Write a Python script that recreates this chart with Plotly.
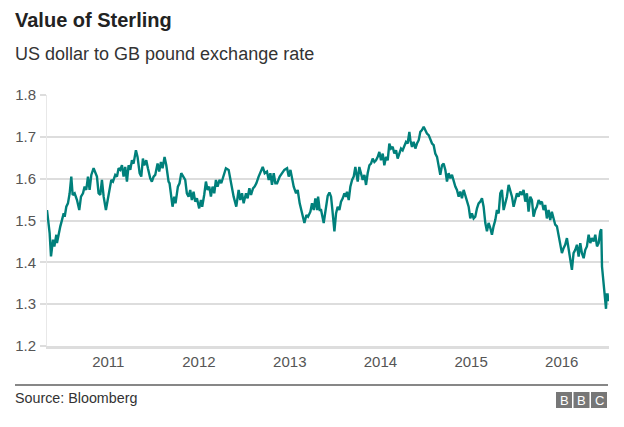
import plotly.graph_objects as go
from datetime import datetime

# Decimal-year positions, with GBP/USD rate
years = [
2010.324,2010.353,2010.368,2010.390,2010.405,2010.427,2010.434,2010.452,2010.471,2010.489,
2010.508,2010.519,2010.537,2010.555,2010.574,2010.592,2010.607,2010.629,2010.655,2010.680,
2010.699,2010.721,2010.739,2010.757,2010.776,2010.794,2010.813,2010.838,2010.857,2010.875,
2010.893,2010.912,2010.930,2010.949,2010.974,2010.996,2011.015,2011.033,2011.052,2011.077,
2011.096,2011.114,2011.132,2011.151,2011.169,2011.187,2011.206,2011.224,2011.243,2011.261,
2011.279,2011.305,2011.323,2011.346,2011.364,2011.382,2011.397,2011.419,2011.437,2011.463,
2011.481,2011.500,2011.518,2011.544,2011.562,2011.581,2011.599,2011.621,2011.640,2011.665,
2011.676,2011.695,2011.709,2011.728,2011.742,2011.768,2011.786,2011.805,2011.831,2011.849,
2011.867,2011.886,2011.904,2011.922,2011.941,2011.959,2011.978,2012.003,2012.022,2012.036,
2012.058,2012.077,2012.095,2012.114,2012.132,2012.150,2012.169,2012.187,2012.205,2012.227,
2012.246,2012.272,2012.297,2012.327,2012.345,2012.363,2012.382,2012.411,2012.437,2012.455,
2012.474,2012.492,2012.518,2012.536,2012.555,2012.573,2012.595,2012.613,2012.632,2012.657,
2012.683,2012.702,2012.724,2012.749,2012.768,2012.786,2012.804,2012.823,2012.841,2012.860,
2012.889,2012.915,2012.940,2012.970,2012.988,2013.007,2013.025,2013.043,2013.069,2013.087,
2013.109,2013.135,2013.161,2013.183,2013.201,2013.227,2013.245,2013.264,2013.282,2013.301,
2013.312,2013.330,
2013.345,2013.374,2013.396,2013.418,2013.437,2013.455,2013.470,2013.484,2013.492,2013.510,
2013.528,2013.547,2013.565,2013.584,2013.602,2013.620,2013.631,2013.650,2013.668,2013.687,
2013.705,2013.723,2013.734,2013.749,2013.767,2013.786,2013.804,2013.823,2013.841,2013.859,
2013.878,2013.896,2013.914,2013.933,2013.951,2013.970,2013.988,2014.006,2014.025,2014.043,
2014.061,2014.080,2014.098,2014.116,2014.135,2014.153,2014.172,2014.190,2014.208,2014.227,
2014.245,2014.263,2014.282,2014.300,2014.319,2014.330,2014.348,2014.366,2014.385,2014.403,
2014.422,2014.440,2014.458,2014.477,2014.495,2014.513,2014.532,2014.550,2014.569,2014.587,
2014.605,2014.624,2014.642,2014.660,2014.679,2014.697,2014.716,2014.734,2014.752,2014.771,
2014.789,2014.807,2014.826,2014.844,2014.863,2014.881,2014.899,2014.918,2014.936,2014.954,
2014.973,2014.991,2015.009,2015.028,2015.046,2015.065,2015.083,2015.101,2015.120,2015.138,
2015.157,2015.175,2015.193,2015.212,2015.230,2015.248,2015.267,2015.285,2015.304,2015.322,
2015.340,2015.359,2015.377,2015.395,2015.414,2015.432,2015.451,2015.469,2015.487,2015.506,
2015.524,2015.542,2015.561,2015.579,2015.598,2015.616,2015.634,2015.653,2015.671,2015.689,
2015.708,2015.726,2015.745,2015.763,2015.781,2015.800,2015.818,2015.836,2015.855,2015.873,
2015.891,2015.910,2015.928,2015.947,2015.965,2015.983,2016.002,2016.020,2016.038,2016.057,
2016.075,2016.094,2016.112,2016.130,2016.149,2016.167,2016.186,2016.204,2016.222,2016.241,
2016.259,2016.277,2016.296,2016.314,2016.332,2016.351,2016.369,2016.388,2016.406,2016.424,
2016.435,2016.443,2016.450,2016.461,2016.472,2016.480,2016.487,2016.494,2016.505,2016.513,
]

rates = [
1.525,1.470,1.414,1.454,1.438,1.466,1.446,1.470,1.486,1.501,
1.517,1.509,1.533,1.541,1.565,1.605,1.561,1.565,1.549,1.525,
1.557,1.565,1.581,1.573,1.605,1.573,1.609,1.625,1.613,1.605,
1.565,1.561,1.597,1.557,1.525,1.553,1.581,1.597,1.593,1.609,
1.605,1.625,1.621,1.632,1.605,1.628,1.593,1.632,1.621,1.644,
1.636,1.668,1.652,1.613,1.605,1.648,1.632,1.644,1.625,1.601,
1.593,1.605,1.609,1.636,1.617,1.640,1.625,1.652,1.632,1.593,
1.589,1.561,1.533,1.557,1.541,1.581,1.589,1.613,1.605,1.597,
1.565,1.557,1.573,1.549,1.569,1.545,1.553,1.529,1.549,1.533,
1.561,1.593,1.573,1.581,1.557,1.581,1.565,1.597,1.581,1.597,
1.589,1.605,1.625,1.621,1.597,1.573,1.557,1.533,1.573,1.549,
1.565,1.541,1.565,1.553,1.577,1.561,1.577,1.581,1.589,1.605,
1.621,1.628,1.613,1.617,1.597,1.613,1.585,1.613,1.589,1.589,
1.605,1.613,1.621,1.625,1.605,1.621,1.597,1.581,1.565,1.573,
1.541,1.517,1.494,1.513,1.509,1.521,1.541,1.525,1.553,1.525,
1.557,1.525,
1.525,1.494,1.529,1.559,1.567,1.557,1.525,1.486,1.474,1.517,
1.533,1.525,1.545,1.553,1.565,1.557,1.569,1.549,1.581,1.597,
1.605,1.628,1.613,1.593,1.628,1.613,1.597,1.609,1.585,1.613,
1.632,1.636,1.648,1.640,1.644,1.652,1.664,1.644,1.660,1.632,
1.652,1.644,1.684,1.672,1.676,1.660,1.668,1.648,1.660,1.672,
1.668,1.680,1.688,1.684,1.712,1.692,1.676,1.688,1.672,1.684,
1.692,1.712,1.716,1.724,1.716,1.708,1.704,1.692,1.684,1.680,
1.660,1.652,1.628,1.609,1.632,1.636,1.621,1.593,1.613,1.601,
1.609,1.593,1.581,1.573,1.557,1.569,1.553,1.573,1.561,1.549,
1.533,1.505,1.517,1.505,1.509,1.529,1.541,1.545,1.553,1.533,
1.494,1.474,1.494,1.482,1.466,1.486,1.501,1.525,1.517,1.565,
1.573,1.525,1.541,1.557,1.585,1.573,1.557,1.533,1.553,1.565,
1.557,1.569,1.561,1.573,1.545,1.565,1.521,1.557,1.549,1.509,
1.525,1.533,1.549,1.541,1.545,1.525,1.537,1.505,1.525,1.501,
1.521,1.501,1.490,1.486,1.466,1.450,1.422,1.434,1.442,1.458,
1.434,1.414,1.382,1.422,1.430,1.442,1.414,1.446,1.422,1.410,
1.430,1.438,1.466,1.446,1.458,1.450,1.466,1.438,1.446,1.474,
1.479,1.390,1.374,1.335,1.323,1.295,1.289,1.323,1.323,1.307,
]

year_ticks = [2011, 2012, 2013, 2014, 2015, 2016]
y_ticks = [1.2, 1.3, 1.4, 1.5, 1.6, 1.7, 1.8]


def to_date(y):
    yr = int(y)
    start = datetime(yr, 1, 1)
    end = datetime(yr + 1, 1, 1)
    return start + (end - start) * (y - yr)


dates = [to_date(v) for v in years]

# The page body has an 8px margin, so the figure is sized to fit inside it
OFF = 8
W, H = 624 - OFF, 427 - OFF
L, R, T, B = 39, 15, 87, 81
PW, PH = W - L - R, H - T - B


def px(x):  # x in reference-screen pixels -> paper
    return (x - OFF - L) / PW


def py(y):  # y in reference-screen pixels -> paper
    return (H - B - (y - OFF)) / PH


FONT = "Liberation Sans, Arial, Helvetica, sans-serif"

fig = go.Figure()
fig.add_trace(go.Scatter(
    x=dates, y=rates, mode="lines",
    line=dict(color="#00807b", width=2.4),
    hoverinfo="skip", showlegend=False,
))

annotations = [
    dict(text="<b>Value of Sterling</b>", x=px(13), y=py(20), xanchor="left", yanchor="middle",
         font=dict(size=20, color="#222222", family=FONT)),
    dict(text="US dollar to GB pound exchange rate", x=px(13), y=py(54), xanchor="left", yanchor="middle",
         font=dict(size=18, color="#333333", family=FONT)),
    dict(text="Source: Bloomberg", x=px(13), y=py(398), xanchor="left", yanchor="middle",
         font=dict(size=14.3, color="#333333", family=FONT)),
]
shapes = [
    dict(type="line", xref="paper", yref="paper", x0=px(15), x1=px(608), y0=py(385), y1=py(385),
         line=dict(color="#111111", width=1.2)),
]
for i, letter in enumerate(["B", "B", "C"]):
    x0 = 556 + i * 17.5
    shapes.append(dict(type="rect", xref="paper", yref="paper", x0=px(x0), x1=px(x0 + 16),
                       y0=py(408), y1=py(392), fillcolor="#777777", line=dict(width=0)))
    annotations.append(dict(text=letter, x=px(x0 + 8), y=py(400), xanchor="center", yanchor="middle",
                            font=dict(size=13, color="#ffffff", family=FONT)))
for a in annotations:
    a.update(xref="paper", yref="paper", showarrow=False)

fig.update_layout(
    width=W, height=H,
    margin=dict(l=L, r=R, t=T, b=B, autoexpand=False),
    paper_bgcolor="white", plot_bgcolor="white",
    font=dict(family=FONT, color="#555555"),
    annotations=annotations, shapes=shapes,
    xaxis=dict(
        type="date", automargin=False,
        range=[dates[0], to_date(2016.52)],
        tickvals=[datetime(y, 1, 1) for y in year_ticks],
        ticktext=[str(y) for y in year_ticks],
        showgrid=False, zeroline=False,
        showline=True, linecolor="#dddddd", linewidth=3,
        ticks="", tickfont=dict(size=15, color="#555555"),
    ),
    yaxis=dict(
        range=[1.2, 1.8], automargin=False,
        tickvals=y_ticks,
        ticktext=[f"{v:.1f}" for v in y_ticks],
        showgrid=True, gridcolor="#dddddd", gridwidth=2,
        zeroline=False,
        showline=True, linecolor="#e8e8e8", linewidth=1,
        ticks="outside", ticklen=6, tickcolor="#dddddd", tickwidth=2,
        ticklabelstandoff=1,
        tickfont=dict(size=15, color="#555555"),
    ),
)

fig.write_html("out.html")
